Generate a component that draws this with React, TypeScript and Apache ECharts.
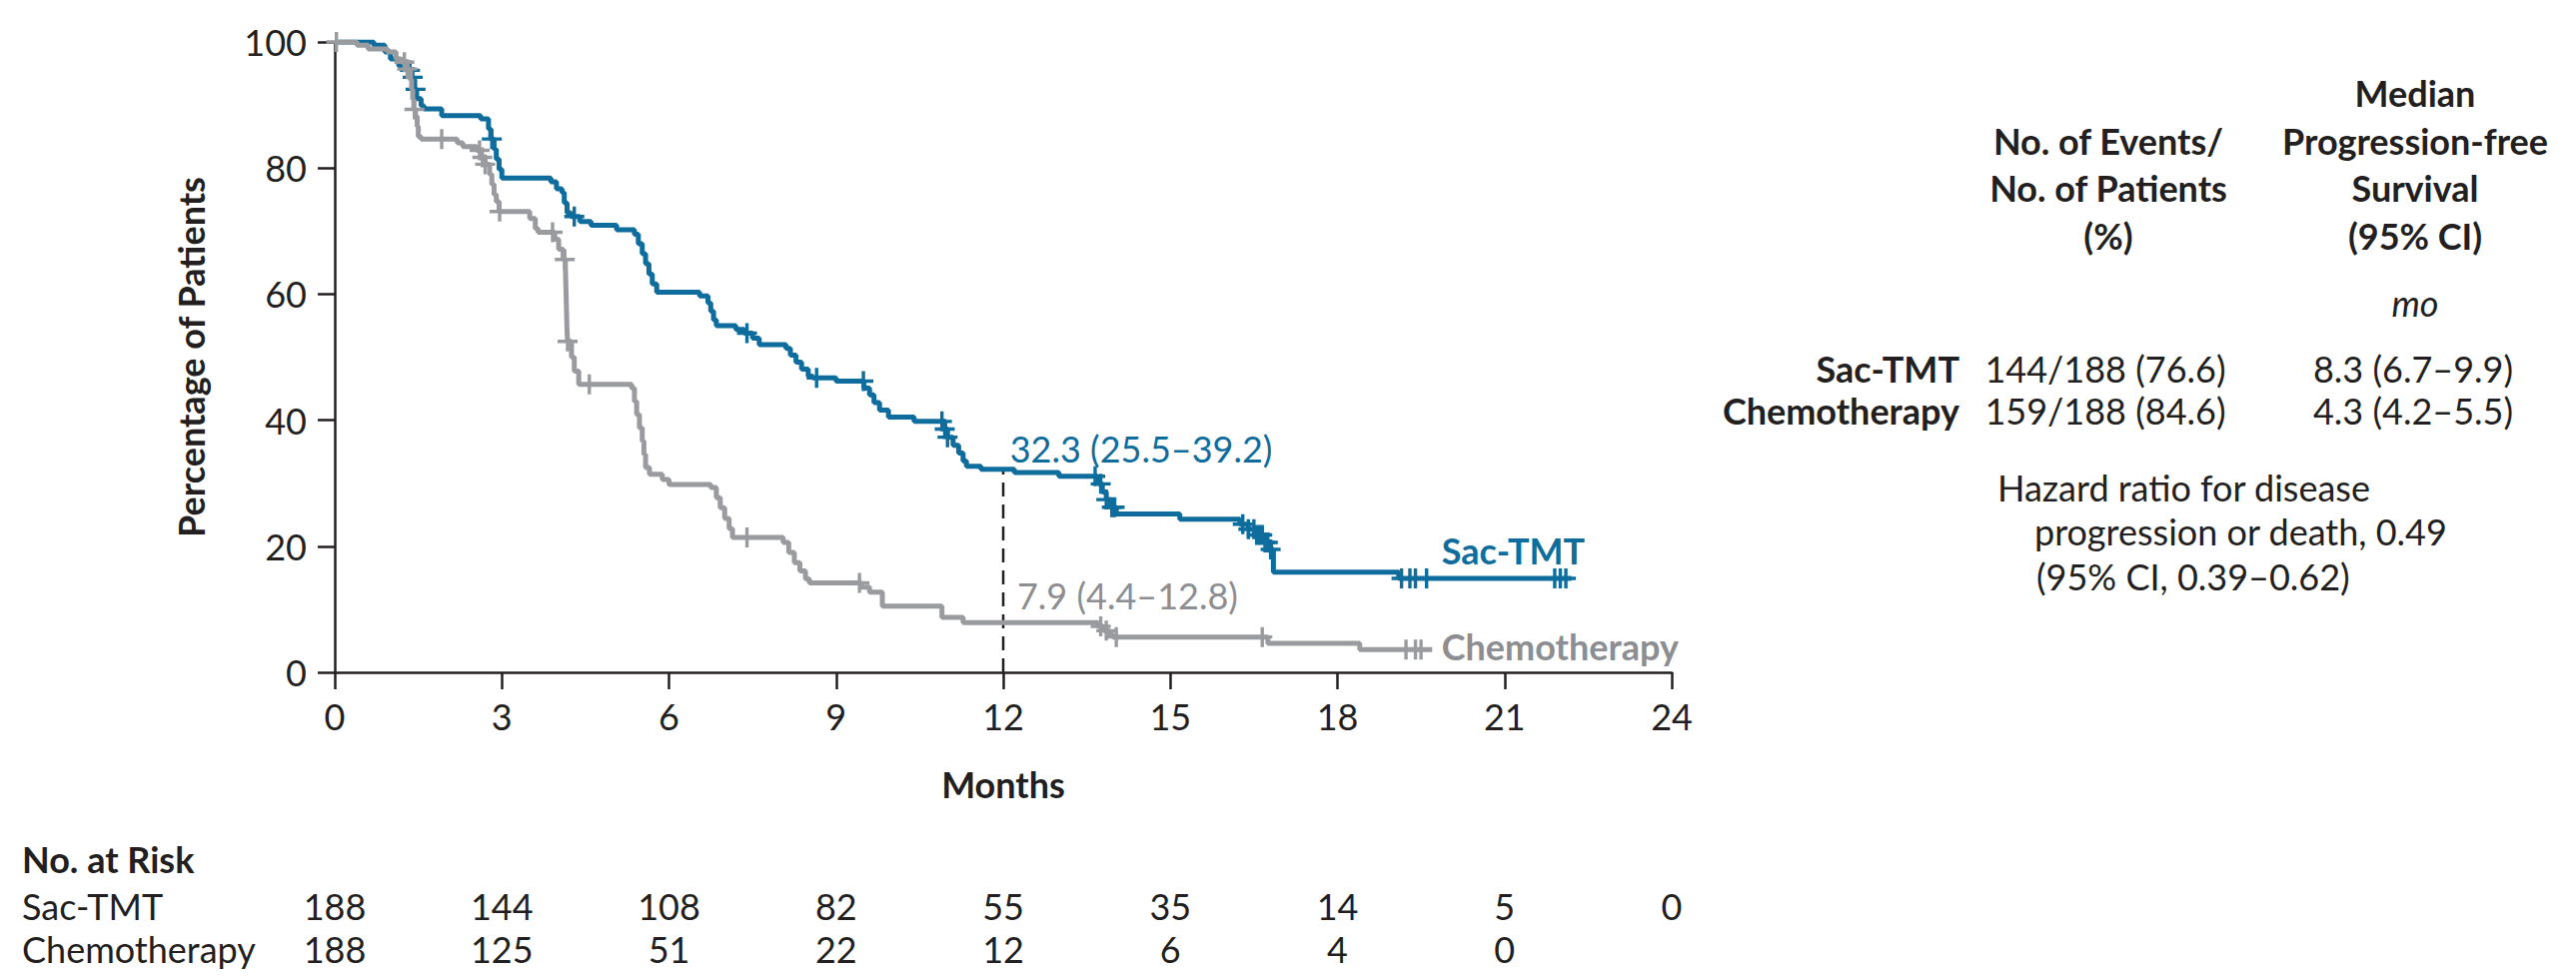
import React, { useEffect, useRef } from 'react';
import * as echarts from 'echarts';

// ---------- data ----------
const monthTicks = [0, 3, 6, 9, 12, 15, 18, 21, 24];
const sacRisk = ['188', '144', '108', '82', '55', '35', '14', '5', '0'];
const chemoRisk = ['188', '125', '51', '22', '12', '6', '4', '0', ''];

// Kaplan-Meier steps: [month, % free of progression after the event]
const sacCurve: [number, number][] = [
  [0, 100], [0.7, 99.5], [0.9, 98.4], [1.0, 97.3], [1.15, 96.2], [1.3, 95.5], [1.38, 94.4],
  [1.42, 92.5], [1.47, 91.0], [1.55, 89.9], [1.6, 89.4], [1.92, 88.3], [2.62, 87.8],
  [2.76, 86.2], [2.8, 84.6], [2.86, 83.0], [2.9, 81.4], [2.95, 79.8], [3.0, 78.4],
  [3.88, 77.8], [3.98, 76.7], [4.08, 76.1], [4.12, 74.5], [4.17, 72.9], [4.24, 72.3],
  [4.4, 71.5], [4.6, 70.9], [5.06, 70.2], [5.38, 69.5], [5.45, 68.0], [5.52, 66.4],
  [5.58, 64.8], [5.64, 63.2], [5.7, 61.6], [5.78, 60.3], [6.55, 59.7], [6.7, 58.6],
  [6.75, 57.3], [6.8, 55.9], [6.85, 55.0], [7.2, 54.4], [7.35, 53.8], [7.5, 53.0],
  [7.62, 52.0], [8.1, 51.4], [8.18, 50.3], [8.28, 49.2], [8.38, 48.1], [8.5, 47.0],
  [8.58, 46.7], [9.0, 46.2], [9.5, 45.1], [9.6, 44.0], [9.68, 42.8], [9.78, 41.6],
  [9.94, 40.5], [10.4, 39.8], [10.95, 38.6], [11.0, 37.3], [11.1, 36.0], [11.2, 34.8],
  [11.28, 33.5], [11.34, 32.7], [11.6, 32.2], [12.2, 31.7], [13.0, 31.1], [13.7, 29.9],
  [13.78, 28.6], [13.85, 27.4], [13.92, 26.2], [14.03, 25.1], [15.17, 24.3], [16.25, 23.5],
  [16.4, 22.7], [16.55, 21.8], [16.7, 20.6], [16.8, 19.5], [16.85, 15.9], [19.1, 14.9],
  [22.2, 14.9],
];

const chemoCurve: [number, number][] = [
  [0, 100], [0.4, 99.5], [0.6, 98.9], [0.95, 98.4], [1.1, 97.3], [1.2, 96.8], [1.3, 95.7],
  [1.36, 94.1], [1.38, 92.5], [1.4, 90.9], [1.42, 89.3], [1.45, 88.2], [1.48, 86.6],
  [1.5, 85.0], [1.55, 84.6], [2.2, 84.0], [2.3, 83.4], [2.55, 82.8], [2.62, 81.7],
  [2.7, 80.6], [2.78, 79.0], [2.82, 77.4], [2.86, 75.8], [2.9, 74.7], [2.95, 73.1],
  [3.5, 72.0], [3.6, 70.4], [3.65, 69.8], [3.95, 68.7], [4.02, 67.1], [4.1, 65.5],
  [4.14, 64.4], [4.15, 61.0], [4.16, 57.6], [4.17, 54.2], [4.18, 52.5], [4.25, 50.0],
  [4.3, 47.8], [4.38, 45.7], [5.33, 45.1], [5.38, 43.0], [5.42, 40.9], [5.47, 38.8],
  [5.52, 36.7], [5.55, 34.6], [5.58, 32.5], [5.65, 31.4], [5.88, 30.6], [6.0, 29.8],
  [6.75, 29.3], [6.85, 27.7], [6.92, 26.1], [7.0, 24.4], [7.08, 22.8], [7.14, 21.4],
  [8.05, 20.6], [8.15, 19.0], [8.25, 17.4], [8.35, 16.1], [8.45, 14.8], [8.52, 14.2],
  [9.45, 13.5], [9.6, 12.7], [9.83, 10.5], [10.9, 8.7], [11.28, 7.9], [13.7, 7.3],
  [13.8, 6.6], [13.9, 6.0], [13.97, 5.6], [16.75, 4.6], [18.4, 3.6], [19.7, 3.6],
];

// censoring times (months)
const sacCensor = [
  1.35, 1.4, 1.45, 2.82, 4.3, 7.4, 8.65, 9.49, 10.9, 10.95, 11.0, 13.65, 13.75, 13.85,
  13.95, 14.0, 16.3, 16.4, 16.5, 16.55, 16.6, 16.65, 16.7, 16.75, 16.8, 19.15, 19.3,
  19.4, 19.6, 21.9, 22.0, 22.1,
];
const chemoCensor = [
  0.03, 1.25, 1.3, 1.43, 1.92, 2.6, 2.65, 2.7, 2.96, 3.91, 4.13, 4.18, 4.57, 7.4, 9.42,
  13.75, 13.85, 14.03, 16.65, 19.23, 19.4, 19.5,
];

const landmark = { month: 12, sac: 32.3, chemo: 7.9 };
const sacLandmarkText = '32.3 (25.5–39.2)';
const chemoLandmarkText = '7.9 (4.4–12.8)';

const groups = ['Sac-TMT', 'Chemotherapy'];
const eventsText = ['144/188 (76.6)', '159/188 (84.6)'];
const medianText = ['8.3 (6.7–9.9)', '4.3 (4.2–5.5)'];
const hazardLines = [
  'Hazard ratio for disease',
  'progression or death, 0.49',
  '(95% CI, 0.39–0.62)',
];

// ---------- style ----------
const FONT = 'Lato, "Open Sans", sans-serif';
const BLUE = '#0f6d9d';
const GRAY = '#999b9e';
const GRAY_TXT = '#8c8e91';
const INK = '#231f20';
const FS = 36;

const PLUS =
  'path://M-1.7,-10L1.7,-10L1.7,-1.7L10,-1.7L10,1.7L1.7,1.7L1.7,10L-1.7,10L-1.7,1.7L-10,1.7L-10,-1.7L-1.7,-1.7Z';

function survivalAt(curve: [number, number][], t: number): number {
  let s = curve[0][1];
  for (const [tt, v] of curve) {
    if (tt <= t) s = v;
    else break;
  }
  return s;
}

function txt(
  text: string,
  x: number,
  y: number,
  opts: { align?: string; weight?: string; style?: string; color?: string } = {}
) {
  const align = opts.align || 'left';
  return {
    type: 'text',
    x,
    y,
    silent: true,
    style: {
      text,
      fill: opts.color || INK,
      fontSize: FS,
      fontFamily: FONT,
      fontWeight: opts.weight || 'normal',
      fontStyle: opts.style || 'normal',
      align,
      textAlign: align,
      verticalAlign: 'middle',
      textVerticalAlign: 'middle',
    },
  };
}

const axisLabelBase = { fontSize: FS, color: INK, fontFamily: FONT };

function riskAxis(values: string[], offset: number) {
  return {
    type: 'value',
    min: 0,
    max: 24,
    interval: 3,
    position: 'bottom',
    offset,
    axisLine: { show: false, onZero: false },
    axisTick: { show: false },
    splitLine: { show: false },
    axisLabel: {
      ...axisLabelBase,
      margin: 26,
      formatter: (v: number) => {
        const i = monthTicks.indexOf(Math.round(v));
        return i >= 0 ? values[i] : '';
      },
    },
  };
}

export default function App() {
  const ref = useRef<HTMLDivElement>(null);

  useEffect(() => {
    if (!ref.current) return;
    const chart = echarts.init(ref.current, undefined, { renderer: 'svg' });

    const option: any = {
      animation: false,
      backgroundColor: '#ffffff',
      textStyle: { fontFamily: FONT },
      grid: { left: 335, right: 905, top: 42, bottom: 306 },
      xAxis: [
        {
          type: 'value',
          min: 0,
          max: 24,
          interval: 3,
          axisLine: { show: true, lineStyle: { color: INK, width: 2.5 } },
          axisTick: { show: true, length: 17, lineStyle: { color: INK, width: 2.5 } },
          axisLabel: { ...axisLabelBase, margin: 26 },
          splitLine: { show: false },
          name: 'Months',
          nameLocation: 'middle',
          nameGap: 94,
          nameTextStyle: { fontSize: FS, fontWeight: 'bold', color: INK, fontFamily: FONT },
        },
        riskAxis(sacRisk, 190),
        riskAxis(chemoRisk, 233),
      ],
      yAxis: {
        type: 'value',
        min: 0,
        max: 100,
        interval: 20,
        axisLine: { show: true, lineStyle: { color: INK, width: 2.5 } },
        axisTick: { show: true, length: 17, lineStyle: { color: INK, width: 2.5 } },
        axisLabel: { ...axisLabelBase, margin: 28 },
        splitLine: { show: false },
        name: 'Percentage of Patients',
        nameLocation: 'middle',
        nameGap: 126,
        nameRotate: 90,
        nameTextStyle: { fontSize: FS, fontWeight: 'bold', color: INK, fontFamily: FONT },
      },
      series: [
        {
          name: 'landmark',
          type: 'line',
          data: [
            [landmark.month, 0],
            [landmark.month, landmark.sac],
          ],
          showSymbol: false,
          silent: true,
          z: 1,
          lineStyle: { color: INK, width: 2.5, type: [14, 8] },
        },
        {
          name: 'Sac-TMT',
          type: 'line',
          step: 'end',
          data: sacCurve,
          showSymbol: false,
          silent: true,
          z: 2,
          lineStyle: { color: BLUE, width: 5 },
        },
        {
          name: 'Sac-TMT censored',
          type: 'scatter',
          data: sacCensor.map((t) => [t, survivalAt(sacCurve, t)]),
          symbol: PLUS,
          symbolSize: 20,
          silent: true,
          z: 3,
          itemStyle: { color: BLUE, opacity: 1 },
        },
        {
          name: 'Chemotherapy',
          type: 'line',
          step: 'end',
          data: chemoCurve,
          showSymbol: false,
          silent: true,
          z: 4,
          lineStyle: { color: GRAY, width: 5 },
        },
        {
          name: 'Chemotherapy censored',
          type: 'scatter',
          data: chemoCensor.map((t) => [t, survivalAt(chemoCurve, t)]),
          symbol: PLUS,
          symbolSize: 20,
          silent: true,
          z: 5,
          itemStyle: { color: GRAY, opacity: 1 },
        },
        {
          name: 'labels',
          type: 'scatter',
          symbolSize: 0,
          silent: true,
          z: 6,
          itemStyle: { opacity: 1 },
          label: {
            show: true,
            position: 'right',
            distance: 0,
            fontSize: FS,
            fontFamily: FONT,
            opacity: 1,
          },
          data: [
            {
              value: [12.12, 35.5],
              label: { formatter: sacLandmarkText, color: BLUE },
            },
            {
              value: [12.25, 12.2],
              label: { formatter: chemoLandmarkText, color: GRAY_TXT },
            },
            {
              value: [19.87, 19.4],
              label: { formatter: groups[0], color: BLUE, fontWeight: 'bold' },
            },
            {
              value: [19.87, 4.1],
              label: { formatter: groups[1], color: GRAY_TXT, fontWeight: 'bold' },
            },
          ],
        },
      ],
      graphic: [
        // at-risk table
        txt('No. at Risk', 22, 860, { weight: 'bold' }),
        txt(groups[0], 22, 907),
        txt(groups[1], 22, 950),
        // right-hand summary
        txt('Median', 2417, 93, { align: 'center', weight: 'bold' }),
        txt('Progression-free', 2417, 141, { align: 'center', weight: 'bold' }),
        txt('Survival', 2417, 188, { align: 'center', weight: 'bold' }),
        txt('(95% CI)', 2417, 236, { align: 'center', weight: 'bold' }),
        txt('No. of Events/', 2110, 141, { align: 'center', weight: 'bold' }),
        txt('No. of Patients', 2110, 188, { align: 'center', weight: 'bold' }),
        txt('(%)', 2110, 236, { align: 'center', weight: 'bold' }),
        txt('mo', 2417, 303, { align: 'center', style: 'italic' }),
        txt(groups[0], 1961, 369, { align: 'right', weight: 'bold' }),
        txt(groups[1], 1961, 411, { align: 'right', weight: 'bold' }),
        txt(eventsText[0], 2107, 369, { align: 'center' }),
        txt(eventsText[1], 2107, 411, { align: 'center' }),
        txt(medianText[0], 2415, 369, { align: 'center' }),
        txt(medianText[1], 2415, 411, { align: 'center' }),
        txt(hazardLines[0], 1999, 488),
        txt(hazardLines[1], 2036, 532),
        txt(hazardLines[2], 2038, 577),
      ],
    };

    chart.setOption(option);
    return () => chart.dispose();
  }, []);

  return (
    <div
      ref={ref}
      style={{ position: 'fixed', left: 0, top: 0, width: '2578px', height: '979px', background: '#fff' }}
    />
  );
}
